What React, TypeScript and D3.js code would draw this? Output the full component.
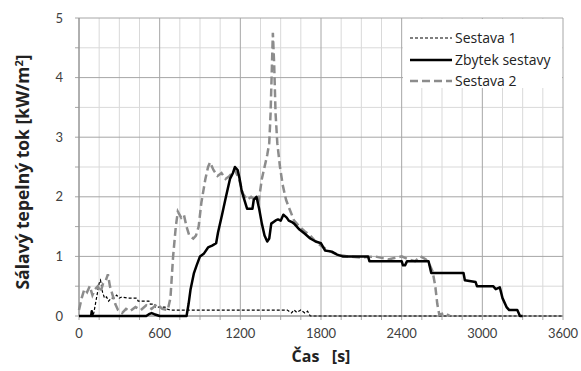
import React from "react";
import * as d3 from "d3";

const xTicks = [0, 600, 1200, 1800, 2400, 3000, 3600];
const yTicks = [0, 1, 2, 3, 4, 5];

const seriesNames = ["Sestava 1", "Zbytek sestavy", "Sestava 2"];

const s1T = [0, 100, 110, 130, 150, 160, 175, 190, 205, 220, 240, 260, 280, 300, 320, 360, 430, 440, 520, 530, 560, 570, 640, 650, 680, 1550, 1580, 1600, 1620, 1650, 1680, 1700, 1720, 3600];
const s1V = [0, 0, 0.05, 0.3, 0.55, 0.6, 0.4, 0.3, 0.32, 0.25, 0.3, 0.3, 0.35, 0.3, 0.32, 0.3, 0.3, 0.25, 0.25, 0.2, 0.2, 0.15, 0.15, 0.12, 0.1, 0.1, 0.05, 0.1, 0.06, 0.1, 0.05, 0.08, 0, 0];

const zbT = [0, 90, 95, 100, 500, 520, 540, 560, 600, 800, 815, 830, 855, 875, 900, 930, 960, 990, 1020, 1034, 1064, 1093, 1123, 1145, 1160, 1180, 1195, 1210, 1230, 1250, 1290, 1300, 1320, 1340, 1360, 1380, 1400, 1415, 1430, 1460, 1480, 1500, 1520, 1545, 1560, 1580, 1600, 1640, 1680, 1720, 1760, 1800, 1830, 1880, 1920, 1960, 2150, 2160, 2400, 2410, 2425, 2440, 2600, 2620, 2860, 2870, 2950, 2960, 3080, 3100, 3130, 3150, 3180, 3200, 3260, 3280, 3300];
const zbV = [0, 0, 0.08, 0, 0, 0.03, 0.05, 0.03, 0, 0, 0.2, 0.45, 0.72, 0.85, 1.0, 1.05, 1.15, 1.18, 1.22, 1.4, 1.7, 2.0, 2.3, 2.4, 2.5, 2.45, 2.3, 2.1, 1.95, 1.8, 1.8, 1.95, 2.0, 1.8, 1.55, 1.35, 1.25, 1.3, 1.55, 1.6, 1.62, 1.6, 1.7, 1.65, 1.6, 1.58, 1.55, 1.45, 1.38, 1.3, 1.25, 1.22, 1.1, 1.08, 1.03, 1.0, 1.0, 0.92, 0.92, 0.85, 0.85, 0.92, 0.92, 0.72, 0.72, 0.6, 0.57, 0.5, 0.5, 0.45, 0.48, 0.3, 0.15, 0.1, 0.1, 0, 0];

const s2T = [0, 20, 40, 60, 80, 100, 120, 140, 160, 180, 200, 215, 230, 250, 270, 290, 320, 350, 380, 420, 460, 500, 540, 580, 620, 660, 680, 700, 720, 735, 760, 780, 800, 820, 850, 870, 890, 910, 940, 960, 975, 1000, 1030, 1060, 1090, 1120, 1160, 1190, 1220, 1250, 1280, 1310, 1335, 1360, 1380, 1400, 1415, 1425, 1435, 1442, 1452, 1462, 1475, 1495, 1515, 1540, 1565, 1600, 1640, 1680, 1720, 1760, 1800, 1850, 1900, 1950, 2000, 2100, 2200, 2300, 2360, 2400, 2450, 2500, 2540, 2580, 2610, 2630, 2650, 2665, 2680, 2720, 2760];
const s2V = [0.1, 0.3, 0.45, 0.4, 0.5, 0.35, 0.45, 0.5, 0.4, 0.55, 0.6, 0.7, 0.5, 0.35, 0.2, 0.1, 0.05, 0.12, 0.08, 0.15, 0.1, 0.18, 0.12, 0.2, 0.12, 0.1, 0.3, 1.0, 1.5, 1.75, 1.65, 1.7, 1.5, 1.35, 1.3, 1.35, 1.5, 1.9, 2.3, 2.5, 2.58, 2.45, 2.35, 2.4, 2.3, 2.35, 2.45, 2.3, 2.05, 1.95, 2.0, 1.95, 1.9, 2.3, 2.5, 2.7, 2.9, 3.4, 4.2, 4.75, 4.2, 3.4, 2.9, 2.5, 2.2, 1.95, 1.8, 1.6, 1.5, 1.42, 1.35, 1.25, 1.18, 1.1, 1.05, 1.02, 1.0, 0.98, 1.0, 0.95, 0.98, 1.0, 0.95, 0.92, 1.0, 0.95, 0.85, 0.75, 0.5, 0.2, 0.02, 0.05, 0];

const L = 79, R = 563, T = 18, B = 316;

export default function App() {
  const x = d3.scaleLinear().domain([0, 3600]).range([L, R]);
  const y = d3.scaleLinear().domain([0, 5]).range([B, T]);
  const line = d3.line<[number, number]>().x(d => x(d[0])).y(d => y(d[1]));
  const zip = (t: number[], v: number[]) => t.map((tt, i) => [tt, v[i]] as [number, number]);

  const minorX = d3.range(0, 3601, 150);
  const minorY = d3.range(0, 5.01, 0.5);
  const font = "Lato, 'Open Sans', sans-serif";
  const font2 = "'Open Sans', sans-serif";

  return (
    <svg width={581} height={371} style={{ position: "absolute", left: 0, top: 0, background: "#fff" }}>
      {minorX.filter(t => t % 600 !== 0).map(t => (
        <line key={"mx" + t} x1={x(t)} x2={x(t)} y1={T} y2={B} stroke="#d9d9d9" strokeWidth={1} />
      ))}
      {minorY.filter(v => Math.abs(v - Math.round(v)) > 0.01).map(v => (
        <line key={"my" + v} x1={L} x2={R} y1={y(v)} y2={y(v)} stroke="#d9d9d9" strokeWidth={1} />
      ))}
      {xTicks.map(t => (
        <line key={"gx" + t} x1={x(t)} x2={x(t)} y1={T} y2={B} stroke="#a6a6a6" strokeWidth={1} />
      ))}
      {yTicks.map(v => (
        <line key={"gy" + v} x1={L} x2={R} y1={y(v)} y2={y(v)} stroke="#a6a6a6" strokeWidth={1} />
      ))}
      {minorX.map(t => (
        <line key={"tx" + t} x1={x(t)} x2={x(t)} y1={B} y2={B + 4} stroke="#a6a6a6" strokeWidth={1} />
      ))}
      {minorY.map(v => (
        <line key={"ty" + v} x1={L - 4} x2={L} y1={y(v)} y2={y(v)} stroke="#a6a6a6" strokeWidth={1} />
      ))}
      <line x1={L} x2={L} y1={T} y2={B} stroke="#8c8c8c" />
      <line x1={L} x2={R} y1={B} y2={B} stroke="#8c8c8c" />

      <rect x={403} y={T + 1} width={R - 403 - 1} height={69} fill="#fff" />

      <path d={line(zip(s1T, s1V)) || ""} fill="none" stroke="#000" strokeWidth={1.2} strokeDasharray="3,2" />
      <path d={line(zip(s2T, s2V)) || ""} fill="none" stroke="#8c8c8c" strokeWidth={2.5} strokeDasharray="8,4" />
      <path d={line(zip(zbT, zbV)) || ""} fill="none" stroke="#000" strokeWidth={2.5} strokeLinejoin="round" />

      {xTicks.map(t => (
        <text key={"lx" + t} x={x(t)} y={338} textAnchor="middle" fontFamily={font} fontSize={13} fill="#404040">{t}</text>
      ))}
      {yTicks.map(v => (
        <text key={"ly" + v} x={63} y={y(v) + 4.5} textAnchor="end" fontFamily={font} fontSize={13} fill="#404040">{v}</text>
      ))}

      <text x={321} y={362} textAnchor="middle" fontFamily={font2} fontSize={16} fontWeight="bold" fill="#222" style={{ whiteSpace: "pre" }}>{"Čas   [s]"}</text>
      <text transform={`translate(29,172) rotate(-90)`} textAnchor="middle" fontFamily={font2} fontSize={17.5} fontWeight="bold" fill="#222">
        Sálavý tepelný tok [kW/m<tspan dy={-6} fontSize={11}>2</tspan><tspan dy={6}>]</tspan>
      </text>

      <line x1={410} x2={452} y1={38} y2={38} stroke="#000" strokeWidth={1.2} strokeDasharray="3,2" />
      <line x1={410} x2={452} y1={60} y2={60} stroke="#000" strokeWidth={2.5} />
      <line x1={410} x2={452} y1={81} y2={81} stroke="#8c8c8c" strokeWidth={2.5} strokeDasharray="8,4" />
      {seriesNames.map((n, i) => (
        <text key={n} x={455} y={[38, 60, 81][i] + 5} fontFamily={font2} fontSize={14} fill="#222">{n}</text>
      ))}
    </svg>
  );
}
